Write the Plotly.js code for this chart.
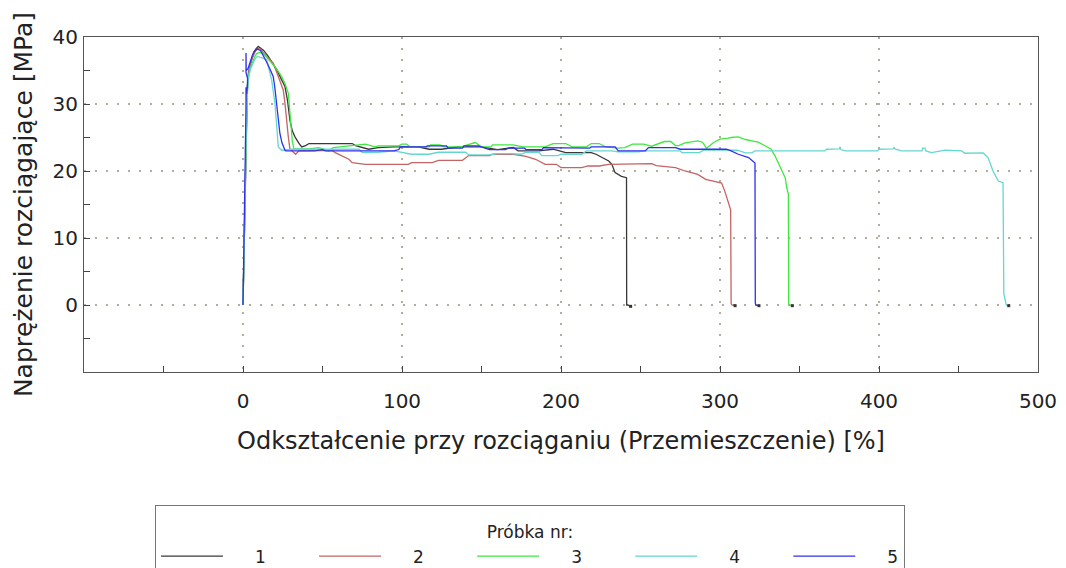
<!DOCTYPE html>
<html><head><meta charset="utf-8">
<script src="https://cdn.plot.ly/plotly-3.0.1.min.js"></script>
<style>html,body{margin:0;padding:0;background:#fff}#chart{width:1066px;height:568px}</style>
</head><body><div id="chart"></div>
<script>
// ---- data (strain %, stress MPa) ----
const sampleNames = ['1', '2', '3', '4', '5'];
const legendTitle = 'Próbka nr:';
const xTitle = 'Odkształcenie przy rozciąganiu (Przemieszczenie) [%]';
const yTitle = 'Naprężenie rozciągające [MPa]';
const xTickVals = [0, 100, 200, 300, 400, 500];
const yTickVals = [0, 10, 20, 30, 40];

const sample1 = [[0,0],[0.4,5],[0.7,10],[1.0,15],[1.3,20],[1.7,24],[2.1,27.5],[2.7,32.5],[3.5,34.8],[4.5,36],[5.8,37],[7,37.8],[8,38.2],[9.6,38.6],[11,38.4],[13,38],[15.9,37.1],[18.5,36.2],[21.2,35.1],[24.3,33.6],[26.4,32.6],[28,30.5],[29.5,27.6],[31,26],[32.7,25.1],[35,24.2],[36.9,23.6],[39.4,23.8],[41.5,24.1],[55,24.1],[68.7,24.1],[70.8,23.8],[79,23.25],[85,23.5],[95,23.6],[110,23.6],[117,23.25],[125,23.25],[135,23.6],[150,23.6],[160,23.2],[170,23.5],[173,23],[186,23],[195,23.25],[203,22.75],[219,22.75],[222,22.5],[223.6,22.3],[228,21.8],[230,21.5],[232,21],[234,19.75],[238,19.2],[241.2,19],[241.3,0],[242,0],[243.8,-0.2]];
const sample2 = [[0,0],[0.4,5],[0.7,10],[1.0,15],[1.3,20],[1.7,24],[2.1,27.5],[2.7,32],[3.5,34.5],[4.5,35.8],[5.8,36.8],[7,37.5],[8,38],[9.5,38.3],[11,38.2],[13,37.6],[16,36.8],[19,36.1],[22.2,34.1],[25.3,32.1],[26.4,30.1],[27.4,27.1],[28.5,25.1],[29.5,23.3],[31,23],[32,22.75],[33.1,22.5],[35.2,23],[45,23],[56,23.1],[58,22.75],[62.4,22.3],[66.6,21.75],[68.7,21.25],[77,21],[85,21],[104,21],[106,21.25],[119,21.25],[123,21.6],[138,21.6],[142,22.3],[155,22.3],[157,22.5],[170,22.5],[178,22.2],[184,21.75],[190,21],[197,21],[200,20.5],[213,20.5],[217,20.75],[224,20.75],[230,21],[242,21],[257,21.1],[260,20.8],[272,20.5],[278,20],[286,19.5],[291,18.75],[295,18.5],[301,18.2],[303,17],[305,15.5],[306.7,14.2],[307,0.2],[307.5,0],[309.5,-0.1]];
const sample3 = [[0,0],[0.4,5],[0.7,10],[1.0,15],[1.3,20],[1.7,24],[2.2,27.5],[2.8,32],[3.6,34.3],[4.7,35.5],[6,36.4],[7.5,37.1],[8.5,37.5],[10,37.7],[12,37.6],[14,37.2],[17,36.4],[20.1,35.6],[24.3,34.1],[26.5,33],[28.5,31.6],[28.9,30.5],[30,27.5],[31,24.5],[32,23.3],[41.5,23.3],[47.7,23.5],[54,23],[56.7,23.5],[68.5,23.8],[77,24],[83,23.6],[85,23.75],[98,23.75],[100,24],[103,24],[105,23.6],[117,23.6],[118,23.9],[124,23.9],[126,23.6],[137,23.6],[142,24],[146,24.25],[150,23.6],[156,23.6],[157,23.9],[170,23.9],[176,23.6],[190,23.6],[195,24.1],[203,24.1],[207,23.6],[216,23.6],[219,24.1],[224,24.1],[228,23.6],[236,23.4],[240,23.5],[245,24],[252,24],[257,23.7],[265,24.4],[269,24.4],[272,23.8],[274,23.8],[278,24.2],[286,24.5],[289,24.3],[291.5,23.4],[296,24.25],[300,24.75],[305,24.9],[307,25],[311.5,25.1],[316,24.7],[320,24.5],[324,24.3],[328,23.8],[332,23.3],[334.5,22.3],[336.7,21.2],[339,20],[341,19],[342,17.5],[343,16.5],[343.2,0.3],[343.5,0],[345.5,-0.1]];
const sample4 = [[0,0],[0.4,5],[0.7,10],[1.0,15],[1.3,20],[1.7,24],[2.2,27.5],[2.8,32],[3.6,34],[4.7,35.2],[6,36],[7.5,36.7],[9,37.1],[11,37],[13,36.8],[14.9,36.6],[16.5,35.2],[18,33.6],[20.1,30.1],[21.2,27.1],[22.2,23.6],[24.3,23.1],[30,23.25],[50,23.25],[73,23.25],[75,22.75],[85,22.8],[95,23],[105,22.6],[106,22.5],[117,22.5],[123,22.8],[140,22.8],[142,22.4],[155,22.4],[160,22.6],[168,22.6],[175,22.5],[178,22.8],[186,22.8],[188,22.3],[198,22.3],[200,22.5],[213,22.5],[216,23],[232,23],[236,22.85],[249,22.85],[252,23],[275,23],[276,22.75],[287,22.75],[290,23.15],[311,23.1],[316,22.7],[320,22.7],[322,23],[366,23],[367,23.25],[375,23.3],[375.6,23.6],[376,23.2],[379,23],[399,23],[400,23.25],[409,23.3],[409.5,23.6],[410,23.3],[414,23],[427,23],[427.5,23.4],[429,23.4],[429.5,23],[433,22.75],[441.6,23.1],[452,23],[454,22.65],[458,22.7],[465.5,22.7],[468.6,22],[470,21],[471.7,20],[475,18.5],[478,18.25],[478.5,1.7],[480,0],[481.6,-0.1]];
const sample5 = [[0,0],[0.4,5],[0.7,10],[1.0,15],[1.2,20],[1.6,25],[1.9,30],[1.9,32.5],[2.0,30.5],[2.3,31.5],[2.7,32.5],[2.9,33.8],[1.9,34.7],[1.9,37.6],[2.0,35],[3.2,35.3],[4.5,36.3],[5.8,37.2],[7,37.8],[9,38.2],[11,38],[13,37.2],[15,36.2],[17,35.2],[19,34.1],[20,32.5],[21.2,30.1],[22,28],[23.2,25.6],[24.5,24.2],[25.3,23.6],[26.4,23.1],[27,23],[45,23],[50,23.2],[52,23],[85,23],[95,23],[98,23.2],[99,23.6],[106,23.6],[115,23.6],[116,23.75],[128,23.75],[129,23.4],[138,23.4],[139,23.75],[148,23.75],[155,23.2],[165,23.2],[167,23.4],[177,23.4],[178,23.2],[188,23.2],[189,23.5],[203,23.5],[210,23.4],[218,23.4],[219,23.6],[234,23.6],[236,23],[253,23],[255,23.5],[272,23.5],[275,23.25],[304,23.25],[307,23],[311.5,22.5],[318,22],[321,21.5],[322,21.2],[322.2,0.3],[322.5,0],[324.5,-0.1]];

const samples = [sample1, sample2, sample3, sample4, sample5];
const colors = ['#383838', '#c46464', '#3ee83e', '#66d6d0', '#2f2ff2'];

const NB = '\u00a0';
const traces = [];
samples.forEach((pts, i) => {
  traces.push({
    type: 'scatter', mode: 'lines',
    x: pts.map(p => p[0]), y: pts.map(p => p[1]),
    name: NB.repeat(5) + sampleNames[i] + (i < samples.length - 1 ? NB.repeat(8) : ''),
    line: {color: colors[i], width: 1.3},
    hoverinfo: 'skip'
  });
});
// end-of-test markers
traces.push({
  type: 'scatter', mode: 'markers', showlegend: false, hoverinfo: 'skip',
  x: samples.map(p => p[p.length - 1][0]), y: samples.map(p => p[p.length - 1][1]),
  marker: {symbol: 'square', size: 3, color: '#333'}
});

const axisCommon = {
  showline: true, linecolor: '#555', linewidth: 1, mirror: true,
  ticks: 'inside', ticklen: 6, tickcolor: '#444', tickwidth: 1,
  showgrid: true, gridcolor: '#b2ad9d', gridwidth: 2, griddash: '2px,9px',
  zeroline: false, tickfont: {size: 20, color: '#222'}, automargin: false
};

const layout = {
  width: 1066, height: 568,
  margin: {l: 84, r: 28, t: 37, b: 196, autoexpand: false},
  paper_bgcolor: '#fff', plot_bgcolor: '#fff',
  font: {family: 'DejaVu Sans, sans-serif', color: '#222', size: 17},
  showlegend: true,
  xaxis: Object.assign({}, axisCommon, {
    range: [-100, 500], tickmode: 'array', tickvals: xTickVals,
    minor: {dtick: 50, tick0: 0, ticks: 'inside', ticklen: 6, tickcolor: '#444', showgrid: false},
    ticklabelstandoff: 11,
    title: {text: xTitle, font: {size: 24, color: '#222'}, standoff: 20}
  }),
  yaxis: Object.assign({}, axisCommon, {
    range: [-10, 40], tickmode: 'array', tickvals: yTickVals,
    minor: {dtick: 5, tick0: 0, ticks: 'inside', ticklen: 6, tickcolor: '#444', showgrid: false},
    ticklabelstandoff: 1,
    title: {text: yTitle, font: {size: 25, color: '#222'}, standoff: 12}
  }),
  legend: {
    orientation: 'h', x: 0.0744, xanchor: 'left', y: -0.397, yanchor: 'top',
    bordercolor: '#777', borderwidth: 1, bgcolor: '#fff', maxheight: 300,
    font: {size: 17, color: '#222'}, itemwidth: 62,
    title: {text: '<span style="font-size:17px">' + legendTitle + '</span>', side: 'top center', font: {size: 25, color: '#222'}},
    traceorder: 'normal'
  }
};

Plotly.newPlot('chart', traces, layout, {displayModeBar: false, staticPlot: true});
</script>
</body></html>
